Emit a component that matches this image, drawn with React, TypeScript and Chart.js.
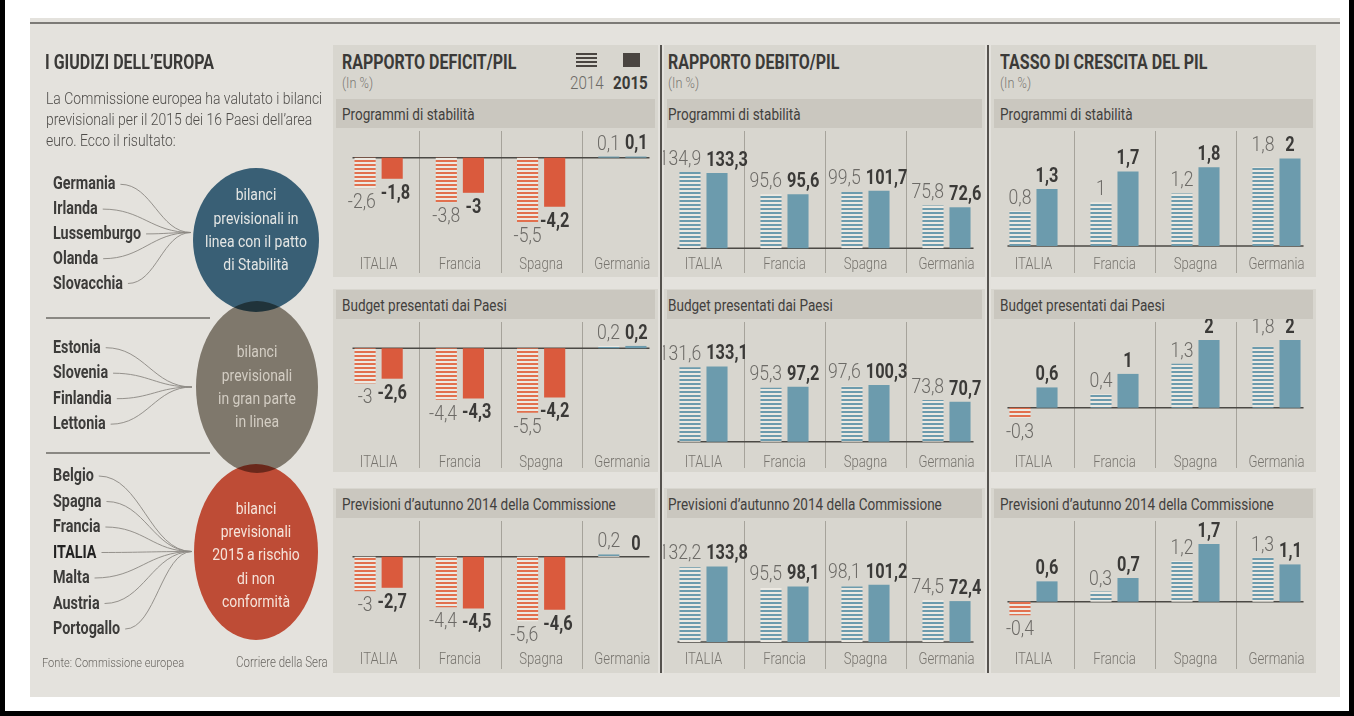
import React, { useEffect, useRef, useMemo } from 'react';
import { Chart, registerables } from 'chart.js';
Chart.register(...registerables);

const FONT = "Roboto, 'Liberation Sans', sans-serif";
const SX = 0.82; // horizontal squeeze to mimic the condensed newspaper face

// ---------------- DATA ----------------
const countries = ['ITALIA', 'Francia', 'Spagna', 'Germania'];
const seriesYears = ['2014', '2015'];

const deficitStab2014 = [-2.6, -3.8, -5.5, 0.1];
const deficitStab2015 = [-1.8, -3, -4.2, 0.1];
const deficitBudget2014 = [-3, -4.4, -5.5, 0.2];
const deficitBudget2015 = [-2.6, -4.3, -4.2, 0.2];
const deficitAutunno2014 = [-3, -4.4, -5.6, 0.2];
const deficitAutunno2015 = [-2.7, -4.5, -4.6, 0];

const debitoStab2014 = [134.9, 95.6, 99.5, 75.8];
const debitoStab2015 = [133.3, 95.6, 101.7, 72.6];
const debitoBudget2014 = [131.6, 95.3, 97.6, 73.8];
const debitoBudget2015 = [133.1, 97.2, 100.3, 70.7];
const debitoAutunno2014 = [132.2, 95.5, 98.1, 74.5];
const debitoAutunno2015 = [133.8, 98.1, 101.2, 72.4];

const crescitaStab2014 = [0.8, 1, 1.2, 1.8];
const crescitaStab2015 = [1.3, 1.7, 1.8, 2];
const crescitaBudget2014 = [-0.3, 0.4, 1.3, 1.8];
const crescitaBudget2015 = [0.6, 1, 2, 2];
const crescitaAutunno2014 = [-0.4, 0.3, 1.2, 1.3];
const crescitaAutunno2015 = [0.6, 0.7, 1.7, 1.1];

const columnTitles = ['RAPPORTO DEFICIT/PIL', 'RAPPORTO DEBITO/PIL', 'TASSO DI CRESCITA DEL PIL'];
const sectionTitles = ['Programmi di stabilità', 'Budget presentati dai Paesi', 'Previsioni d’autunno 2014 della Commissione'];

const groupStable = ['Germania', 'Irlanda', 'Lussemburgo', 'Olanda', 'Slovacchia'];
const groupMostly = ['Estonia', 'Slovenia', 'Finlandia', 'Lettonia'];
const groupRisk = ['Belgio', 'Spagna', 'Francia', 'ITALIA', 'Malta', 'Austria', 'Portogallo'];
const textStable = ['bilanci', 'previsionali in', 'linea con il patto', 'di Stabilità'];
const textMostly = ['bilanci', 'previsionali', 'in gran parte', 'in linea'];
const textRisk = ['bilanci', 'previsionali', '2015 a rischio', 'di non', 'conformità'];

const panelData = [
  [[deficitStab2014, deficitStab2015], [deficitBudget2014, deficitBudget2015], [deficitAutunno2014, deficitAutunno2015]],
  [[debitoStab2014, debitoStab2015], [debitoBudget2014, debitoBudget2015], [debitoAutunno2014, debitoAutunno2015]],
  [[crescitaStab2014, crescitaStab2015], [crescitaBudget2014, crescitaBudget2015], [crescitaAutunno2014, crescitaAutunno2015]],
];

// ---------------- LAYOUT / STYLE ----------------
const yRanges = [
  [[-8.06, 2.54], [-8.69, 2.5], [-7.85, 3.37]],
  [[-6.55, 212.9], [-14.7, 217.2], [-8.85, 219.5]],
  [[-0.137, 2.694], [-1.251, 2.624], [-1.336, 2.469]],
];
const COLS = [
  { panelX: 333, panelW: 325, chartX: 338, chartW: 325, titleX: 342 },
  { panelX: 664, panelW: 321, chartX: 663, chartW: 324, titleX: 668 },
  { panelX: 991, panelW: 325, chartX: 993, chartW: 324, titleX: 1000 },
];
const ROWS = [
  { panelTop: 45, headerTop: 99, chartTop: 128, chartBottom: 277, padBottom: 25 },
  { panelTop: 289, headerTop: 290, chartTop: 319, chartBottom: 472, padBottom: 22 },
  { panelTop: 488, headerTop: 489, chartTop: 518, chartBottom: 673, padBottom: 26 },
];

const PAPER = '#e4e2dd';
const PANEL = '#d8d6cf';
const HEADER = '#cac7bf';
const BLUE = '#6c9bad';
const RED = '#da5a3d';
const HATCH_GAP = '#ece9e2';
const TXT_DARK = '#3b3a38';
const TXT_LIGHT = '#6c6a66';

function makeHatch(color: string): any {
  const c = document.createElement('canvas');
  c.width = 4; c.height = 4;
  const g = c.getContext('2d')!;
  g.fillStyle = HATCH_GAP; g.fillRect(0, 0, 4, 4);
  g.fillStyle = color; g.fillRect(0, 0, 4, 2);
  return g.createPattern(c, 'repeat') || color;
}

const fmt = (v: number) => String(v).replace('.', ',');

function squeezedText(ctx: CanvasRenderingContext2D, text: string, x: number, y: number, sx: number) {
  ctx.save();
  ctx.translate(x, y);
  ctx.scale(sx, 1);
  ctx.fillText(text, 0, 0);
  ctx.restore();
}

const panelPlugin = {
  id: 'panelDecor',
  beforeDatasetsDraw(chart: any) {
    const { ctx, chartArea, scales } = chart;
    const x = scales.x, y = scales.y;
    const n = chart.data.labels.length;
    ctx.save();
    ctx.strokeStyle = '#a6a39b';
    ctx.lineWidth = 1;
    for (let i = 1; i < n; i++) {
      const px = Math.round((x.getPixelForTick(i - 1) + x.getPixelForTick(i)) / 2) + 0.5;
      ctx.beginPath(); ctx.moveTo(px, chartArea.top + 3); ctx.lineTo(px, chart.height - 4); ctx.stroke();
    }
    const m0 = chart.getDatasetMeta(0), m1 = chart.getDatasetMeta(1);
    const first = m0.data[0], last = m1.data[n - 1];
    const x0 = first.x - first.width / 2 - 2, x1 = last.x + last.width / 2 + 3;
    const py = y.getPixelForValue(0);
    ctx.strokeStyle = '#4b4945';
    ctx.lineWidth = 1.6;
    ctx.beginPath(); ctx.moveTo(x0, py); ctx.lineTo(x1, py); ctx.stroke();
    ctx.fillStyle = '#77746e';
    ctx.font = `300 16px ${FONT}`;
    ctx.textAlign = 'center';
    ctx.textBaseline = 'middle';
    chart.data.labels.forEach((l: string, i: number) => squeezedText(ctx, l, x.getPixelForTick(i), chartArea.bottom + 13, SX));
    ctx.restore();
  },
  afterDatasetsDraw(chart: any) {
    const { ctx } = chart;
    const n = chart.data.labels.length;
    ctx.save();
    ctx.textAlign = 'center';
    ctx.textBaseline = 'middle';
    for (let i = 0; i < n; i++) {
      const items = [0, 1].map((d) => {
        const el = chart.getDatasetMeta(d).data[i];
        const v = chart.data.datasets[d].data[i] as number;
        const font = d === 0 ? `300 20px ${FONT}` : `bold 19.5px ${FONT}`;
        const sx = d === 0 ? 0.88 : 0.84;
        ctx.font = font;
        const text = fmt(v);
        const w = ctx.measureText(text).width * sx;
        const neg = v < 0;
        const yy = neg ? Math.max(el.y, el.base) + 15 : Math.min(el.y, el.base) - 12;
        return { x: el.x, y: yy, w, text, font, sx, neg, color: d === 0 ? TXT_LIGHT : TXT_DARK };
      });
      const [a, b] = items;
      if (!a.neg && !b.neg && a.y > b.y && a.y - b.y < 12) a.y = b.y;
      if (Math.abs(a.y - b.y) < 14) {
        const ov = a.x + a.w / 2 + 5 - (b.x - b.w / 2);
        if (ov > 0) { a.x -= ov / 2; b.x += ov / 2; }
      }
      items.forEach((it) => {
        ctx.font = it.font;
        ctx.fillStyle = it.color;
        squeezedText(ctx, it.text, it.x, it.y, it.sx);
      });
    }
    ctx.restore();
  },
};

function BarPanel(props: { left: number; top: number; width: number; height: number; v2014: number[]; v2015: number[]; yMin: number; yMax: number; padBottom: number }) {
  const ref = useRef<HTMLCanvasElement>(null);
  useEffect(() => {
    const hatchBlue = makeHatch(BLUE);
    const hatchRed = makeHatch('#e2704e');
    const chart = new Chart(ref.current!, {
      type: 'bar',
      data: {
        labels: countries,
        datasets: [
          { label: seriesYears[0], data: props.v2014, backgroundColor: (c: any) => ((c.raw as number) < 0 ? hatchRed : hatchBlue), categoryPercentage: 0.667, barPercentage: 0.78 },
          { label: seriesYears[1], data: props.v2015, backgroundColor: (c: any) => ((c.raw as number) < 0 ? RED : BLUE), categoryPercentage: 0.667, barPercentage: 0.78 },
        ],
      },
      options: {
        animation: false,
        responsive: false,
        maintainAspectRatio: false,
        events: [],
        layout: { padding: { top: 0, left: 0, right: 0, bottom: props.padBottom } },
        plugins: { legend: { display: false }, tooltip: { enabled: false } },
        scales: {
          x: { display: false },
          y: { display: false, min: props.yMin, max: props.yMax },
        },
      } as any,
      plugins: [panelPlugin as any],
    });
    return () => chart.destroy();
  }, []);
  return <canvas ref={ref} width={props.width} height={props.height} style={{ position: 'absolute', left: props.left, top: props.top, width: props.width, height: props.height }} />;
}

function T(p: { x: number; cy: number; size: number; weight?: number; color: string; children: any; align?: 'left' | 'right' | 'center' }) {
  const lh = Math.round(p.size * 1.25);
  const style: any = { position: 'absolute', top: p.cy - lh / 2, fontSize: p.size, lineHeight: lh + 'px', fontWeight: p.weight ?? 400, color: p.color, whiteSpace: 'nowrap', fontFamily: FONT, transform: `scaleX(${SX})` };
  if (p.align === 'right') { style.right = 1354 - p.x; style.transformOrigin = 'right center'; }
  else if (p.align === 'center') { style.left = p.x - 100; style.width = 200; style.textAlign = 'center'; style.transformOrigin = 'center center'; }
  else { style.left = p.x; style.transformOrigin = 'left center'; }
  return <div style={style}>{p.children}</div>;
}

function Bubble(p: { cx: number; cy: number; lines: string[]; color: string }) {
  const lh = 23.3;
  return (
    <div style={{ position: 'absolute', left: p.cx - 90, width: 180, top: p.cy - (p.lines.length * lh) / 2, textAlign: 'center', fontFamily: FONT, fontSize: 17, fontWeight: 400, lineHeight: lh + 'px', color: p.color, whiteSpace: 'nowrap', transform: `scaleX(${SX})`, transformOrigin: 'center center' }}>
      {p.lines.map((l, i) => <div key={i}>{l}</div>)}
    </div>
  );
}

export default function App() {
  const groups = [
    { names: groupStable, y0: 183.3, dy: 24.8, end: [191, 232.5] },
    { names: groupMostly, y0: 346.7, dy: 25.5, end: [192, 387] },
    { names: groupRisk, y0: 475, dy: 25.5, end: [192, 551.5] },
  ];
  const NAME_SIZE = 17.5;
  const widths = useMemo(() => {
    const g = document.createElement('canvas').getContext('2d')!;
    g.font = `bold ${NAME_SIZE}px ${FONT}`;
    const o: Record<string, number> = {};
    [...groupStable, ...groupMostly, ...groupRisk].forEach((n) => { o[n] = g.measureText(n).width * SX; });
    return o;
  }, []);

  const curves: string[] = [];
  groups.forEach((gr) => {
    gr.names.forEach((n, i) => {
      const sx = 53 + widths[n] + 5, sy = gr.y0 + gr.dy * i + 1;
      const [ex, ey] = gr.end;
      const dx = ex - sx;
      curves.push(`M ${sx} ${sy} C ${sx + dx * 0.45} ${sy}, ${ex - dx * 0.45} ${ey}, ${ex} ${ey}`);
    });
  });

  return (
    <div style={{ position: 'fixed', left: 0, top: 0, width: 1354, height: 716, background: '#fff', overflow: 'hidden', fontFamily: FONT }}>
      {/* paper */}
      <div style={{ position: 'absolute', left: 30, top: 18, width: 1310, height: 679, background: PAPER }} />
      <div style={{ position: 'absolute', left: 30, top: 22, width: 1310, height: 2, background: '#7c7a76' }} />
      {/* frame */}
      <div style={{ position: 'absolute', left: 0, top: 0, width: 5, height: 716, background: '#000' }} />
      <div style={{ position: 'absolute', left: 1349, top: 0, width: 5, height: 716, background: '#000' }} />
      <div style={{ position: 'absolute', left: 0, top: 711, width: 1354, height: 5, background: '#000' }} />

      {/* column panels */}
      {COLS.map((c, ci) => (
        <React.Fragment key={'p' + ci}>
          {ROWS.map((r, ri) => (
            <React.Fragment key={'r' + ri}>
              <div style={{ position: 'absolute', left: c.panelX, top: r.panelTop, width: c.panelW, height: r.chartBottom - r.panelTop, background: PANEL }} />
              <div style={{ position: 'absolute', left: c.panelX + 3, top: r.headerTop, width: c.panelW - 6, height: 29, background: HEADER }} />
              <T x={c.titleX} cy={r.headerTop + 15} size={16.5} weight={400} color="#42403d">{sectionTitles[ri]}</T>
            </React.Fragment>
          ))}
          <T x={c.titleX} cy={63} size={19.5} weight={700} color={TXT_DARK}>{columnTitles[ci]}</T>
          <T x={c.titleX} cy={83} size={15.5} weight={300} color="#7b7873">(In %)</T>
        </React.Fragment>
      ))}
      {/* column separators */}
      <div style={{ position: 'absolute', left: 660, top: 45, width: 2, height: 628, background: '#55524e' }} />
      <div style={{ position: 'absolute', left: 987, top: 45, width: 2, height: 628, background: '#55524e' }} />

      {/* legend */}
      <div style={{ position: 'absolute', left: 576, top: 53, width: 21, height: 14, background: 'repeating-linear-gradient(to bottom, #4a4541 0px, #4a4541 2px, transparent 2px, transparent 4px)' }} />
      <div style={{ position: 'absolute', left: 623, top: 53, width: 17, height: 14, background: '#4a4541' }} />
      <T x={570} cy={83} size={18.5} weight={300} color={TXT_LIGHT}>{seriesYears[0]}</T>
      <T x={613} cy={83} size={18.5} weight={700} color={TXT_DARK}>{seriesYears[1]}</T>

      {/* charts */}
      {COLS.map((c, ci) => ROWS.map((r, ri) => (
        <BarPanel key={`c${ci}${ri}`} left={c.chartX} top={r.chartTop} width={c.chartW} height={r.chartBottom - r.chartTop}
          v2014={panelData[ci][ri][0]} v2015={panelData[ci][ri][1]} yMin={yRanges[ci][ri][0]} yMax={yRanges[ci][ri][1]} padBottom={r.padBottom} />
      )))}

      {/* left panel */}
      <svg width={1354} height={716} style={{ position: 'absolute', left: 0, top: 0 }}>
        <ellipse cx={256} cy={240} rx={63} ry={72} fill="#3f6b87" style={{ mixBlendMode: 'multiply' }} />
        <ellipse cx={257} cy={387} rx={61} ry={86} fill="#8e877d" style={{ mixBlendMode: 'multiply' }} />
        <ellipse cx={256} cy={552} rx={62} ry={88} fill="#d5553e" style={{ mixBlendMode: 'multiply' }} />
        <line x1={46} y1={318} x2={210} y2={318} stroke="#6d6a65" strokeWidth={1.5} />
        <line x1={46} y1={453} x2={210} y2={453} stroke="#6d6a65" strokeWidth={1.5} />
        {curves.map((d, i) => <path key={i} d={d} fill="none" stroke="#8b8882" strokeWidth={0.9} />)}
      </svg>
      <T x={45} cy={63} size={19.5} weight={700} color={TXT_DARK}>I GIUDIZI DELL’EUROPA</T>
      <div style={{ position: 'absolute', left: 46, top: 88, fontSize: 17, fontWeight: 300, lineHeight: '21px', color: '#4f4d4a', whiteSpace: 'nowrap', fontFamily: FONT, transform: `scaleX(${SX})`, transformOrigin: 'left top' }}>
        <div>La Commissione europea ha valutato i bilanci</div>
        <div>previsionali per il 2015 dei 16 Paesi dell’area</div>
        <div>euro. Ecco il risultato:</div>
      </div>
      {groups.map((gr, gi) => gr.names.map((n, i) => (
        <T key={`n${gi}${i}`} x={53} cy={gr.y0 + gr.dy * i} size={NAME_SIZE} weight={700} color={n === 'ITALIA' ? '#222' : '#3d3c3a'}>{n}</T>
      )))}
      <Bubble cx={256} cy={230} lines={textStable} color="#e4e6e4" />
      <Bubble cx={257} cy={387} lines={textMostly} color="#d3cdc3" />
      <Bubble cx={256} cy={555} lines={textRisk} color="#f5e3da" />
      <T x={42} cy={662} size={13.5} weight={300} color="#6a6762">Fonte: Commissione europea</T>
      <T x={328} cy={662} size={14} weight={300} color="#6a6762" align="right">Corriere della Sera</T>
    </div>
  );
}
